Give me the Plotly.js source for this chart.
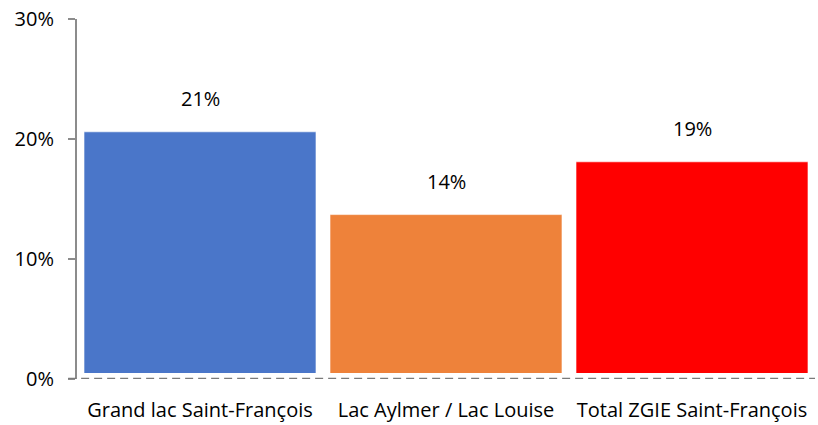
<!DOCTYPE html>
<html><head><meta charset="utf-8">
<script src="https://cdn.plot.ly/plotly-3.0.1.min.js"></script>
<style>html,body{margin:0;padding:0;background:#fff}#chart{width:818px;height:425px}</style>
</head><body><div id="chart"></div>
<script>
const categories = ['Grand lac Saint-François', 'Lac Aylmer / Lac Louise', 'Total ZGIE Saint-François'];
const values = [0.206, 0.137, 0.181];
const valueLabels = ['21%', '14%', '19%'];
const barColors = ['#4a76c9', '#ee823a', '#ff0000'];
const yTickVals = [0, 0.1, 0.2, 0.3];
const yTickText = ['0%', '10%', '20%', '30%'];

const font = {family: '"Open Sans", "Noto Sans", sans-serif', size: 20, color: '#000'};

const trace = {
  type: 'bar', x: categories, y: values,
  marker: {color: barColors, line: {color: 'rgba(255,255,255,0.6)', width: 1}},
  hoverinfo: 'none'
};

const annotations = categories.map((c, i) => ({
  x: c, y: values[i], text: valueLabels[i], showarrow: false,
  yshift: 33, font: font
}));

const layout = {
  width: 818, height: 425,
  margin: {l: 77, r: 3, t: 19, b: 46},
  paper_bgcolor: '#fff', plot_bgcolor: '#fff',
  showlegend: false, bargap: 0.057,
  font: font,
  xaxis: {type: 'category', showgrid: false, zeroline: false, showline: false,
          ticks: '', ticklabelstandoff: 17, tickfont: font},
  yaxis: {range: [0, 0.3], tickvals: yTickVals, ticktext: yTickText, showgrid: false,
          zeroline: false, showline: true, linecolor: '#8c8c8c', linewidth: 2,
          ticks: 'outside', ticklen: 7, tickwidth: 2, tickcolor: '#8c8c8c',
          ticklabelstandoff: 10, tickfont: font},
  annotations: annotations,
  shapes: [
    {type: 'rect', xref: 'paper', yref: 'y', x0: 0.003, x1: 1, y0: 0, y1: 0.005,
     fillcolor: '#fff', line: {width: 0}, layer: 'above'},
    {type: 'line', xref: 'paper', yref: 'y', x0: -0.012, x1: 1, y0: 0, y1: 0,
     line: {color: '#7a7a7a', width: 2.5, dash: '8px,5px'}, layer: 'above'}
  ]
};

Plotly.newPlot('chart', [trace], layout, {displayModeBar: false, staticPlot: true});
</script></body></html>
